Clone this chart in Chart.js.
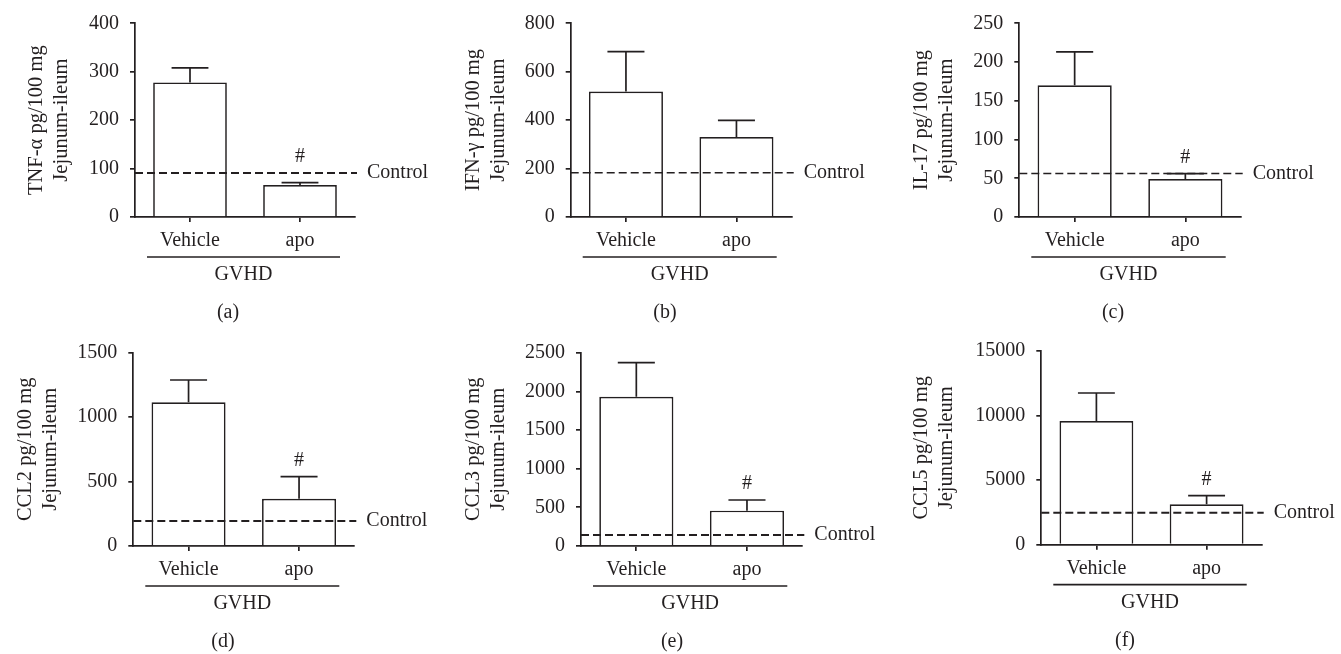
<!DOCTYPE html>
<html><head><meta charset="utf-8">
<script src="https://cdn.jsdelivr.net/npm/chart.js@4"></script>
<style>
html,body{margin:0;padding:0;background:#fff;}
body{width:1341px;height:654px;position:relative;overflow:hidden;}
canvas{position:absolute;}
</style></head><body>
<canvas id="c0" width="447" height="327" style="left:0;top:0"></canvas>
<canvas id="c1" width="447" height="327" style="left:447px;top:0"></canvas>
<canvas id="c2" width="447" height="327" style="left:894px;top:0"></canvas>
<canvas id="c3" width="447" height="327" style="left:0;top:327px"></canvas>
<canvas id="c4" width="447" height="327" style="left:447px;top:327px"></canvas>
<canvas id="c5" width="447" height="327" style="left:894px;top:327px"></canvas>
<script>
// ---------- data ----------
const categories = ['Vehicle', 'apo'];
const groupLabel = 'GVHD';
const controlLabel = 'Control';

const tnfMean  = [278, 66];    const tnfErr  = [30, 5];
const ifnMean  = [518, 330];   const ifnErr  = [165, 69];
const il17Mean = [170, 49];    const il17Err = [43, 7];
const ccl2Mean = [1115, 367];  const ccl2Err = [173, 171];
const ccl3Mean = [1931, 457];  const ccl3Err = [440, 138];
const ccl5Mean = [9580, 3128]; const ccl5Err = [2168, 667];

const controlLevels = [91, 183, 56, 194, 142, 2478];
const yMax  = [400, 800, 250, 1500, 2500, 15000];
const yStep = [100, 200, 50, 500, 500, 5000];
const yTitles = [
  ['TNF-α pg/100 mg', 'Jejunum-ileum'],
  ['IFN-γ pg/100 mg', 'Jejunum-ileum'],
  ['IL-17 pg/100 mg', 'Jejunum-ileum'],
  ['CCL2 pg/100 mg', 'Jejunum-ileum'],
  ['CCL3 pg/100 mg', 'Jejunum-ileum'],
  ['CCL5 pg/100 mg', 'Jejunum-ileum']
];
const sigMarks = [['', '#'], ['', ''], ['', '#'], ['', '#'], ['', '#'], ['', '#']];
const panelLetters = ['(a)', '(b)', '(c)', '(d)', '(e)', '(f)'];

const seriesMeans = [tnfMean, ifnMean, il17Mean, ccl2Mean, ccl3Mean, ccl5Mean];
const seriesErrs  = [tnfErr, ifnErr, il17Err, ccl2Err, ccl3Err, ccl5Err];

// ---------- layout (page coordinates) ----------
const W = 447, H = 327;
const layout = [
  {cx:0,   cy:0,   left:135,    right:355,    top:23.3,  bottom:217,   t1:36.7,  lab:228,  dash:2},
  {cx:447, cy:0,   left:570.7,  right:791.7,  top:23.3,  bottom:217,   t1:473.3, lab:665,  dash:1.5},
  {cx:894, cy:0,   left:1019.3, right:1240.7, top:23.3,  bottom:217,   t1:921.7, lab:1113, dash:1.5},
  {cx:0,   cy:327, left:133.3,  right:354.3,  top:352.7, bottom:546,   t1:25.5,  lab:223,  dash:2},
  {cx:447, cy:327, left:581,    right:802.3,  top:352.7, bottom:546,   t1:473.3, lab:672,  dash:2},
  {cx:894, cy:327, left:1041.3, right:1261.7, top:351,   bottom:544.7, t1:921.7, lab:1125, dash:2}
];

const INK = '#231f20';
const FAM = '"Liberation Serif", "Times New Roman", serif';
const FS = 20;
const TFS = 20.5;
const LH = 1.22;
const LW = 1.7;

const decor = {
  id: 'decor',
  afterDatasetsDraw(chart, args, opts) {
    const i = opts.idx, L = layout[i];
    const {ctx, chartArea: a, scales: {y}} = chart;
    const means = seriesMeans[i], errs = seriesErrs[i];
    const meta = chart.getDatasetMeta(0);
    ctx.save();
    ctx.strokeStyle = INK; ctx.fillStyle = INK;
    ctx.lineWidth = LW;
    const yc = y.getPixelForValue(controlLevels[i]);
    meta.data.forEach((bar, j) => {
      const bx = bar.x, w = bar.width;
      const yTop = y.getPixelForValue(means[j]);
      const yE = y.getPixelForValue(means[j] + errs[j]);
      ctx.beginPath();
      ctx.moveTo(bx, yTop); ctx.lineTo(bx, yE);
      ctx.moveTo(bx - w / 4, yE); ctx.lineTo(bx + w / 4, yE);
      ctx.stroke();
      if (sigMarks[i][j]) {
        ctx.font = FS + 'px ' + FAM;
        ctx.textAlign = 'center'; ctx.textBaseline = 'middle';
        ctx.fillText(sigMarks[i][j], bx, Math.min(yE, yc) - 16);
      }
    });
    // control line
    ctx.setLineDash([8, 4]);
    ctx.lineWidth = L.dash;
    ctx.beginPath(); ctx.moveTo(a.left, yc); ctx.lineTo(a.right + 2, yc); ctx.stroke();
    ctx.setLineDash([]);
    ctx.font = FS + 'px ' + FAM;
    ctx.textAlign = 'left'; ctx.textBaseline = 'middle';
    ctx.fillText(controlLabel, a.right + 12, yc);
    // group bracket
    ctx.lineWidth = LW;
    const gy = a.bottom + 40;
    const gl = a.left + 12, gr = a.right - 15;
    ctx.beginPath(); ctx.moveTo(gl, gy); ctx.lineTo(gr, gy); ctx.stroke();
    ctx.textAlign = 'center';
    ctx.fillText(groupLabel, (gl + gr) / 2, a.bottom + 58);
    ctx.fillText(panelLetters[i], L.lab - L.cx, a.bottom + 96);
    ctx.restore();
  }
};

layout.forEach((L, i) => {
  const ctx = document.getElementById('c' + i);
  new Chart(ctx, {
    type: 'bar',
    data: {
      labels: categories,
      datasets: [{
        data: seriesMeans[i],
        backgroundColor: '#ffffff',
        borderColor: INK,
        borderWidth: LW,
        categoryPercentage: 1,
        barPercentage: 0.67
      }]
    },
    options: {
      responsive: false,
      animation: false,
      events: [],
      layout: { padding: { left: 0, top: L.top - L.cy, right: (L.cx + W) - L.right, bottom: 0 } },
      plugins: { legend: { display: false }, tooltip: { enabled: false }, decor: { idx: i } },
      scales: {
        x: {
          ticks: { color: INK, font: { family: FAM, size: FS }, padding: 7 },
          grid: { display: true, offset: false, drawOnChartArea: false, drawTicks: true, tickLength: 5, color: INK, lineWidth: LW },
          border: { display: true, color: INK, width: LW },
          afterFit(s) { s.height = (L.cy + H) - L.bottom; }
        },
        y: {
          min: 0, max: yMax[i],
          ticks: { stepSize: yStep[i], color: INK, font: { family: FAM, size: FS }, padding: 11, callback: v => String(v) },
          grid: { display: true, drawOnChartArea: false, drawTicks: true, tickLength: 5, color: INK, lineWidth: LW },
          border: { display: true, color: INK, width: LW },
          title: {
            display: true, text: yTitles[i], color: INK,
            font: { family: FAM, size: TFS, lineHeight: LH },
            padding: { top: (L.t1 - L.cx) - TFS * LH / 2, bottom: 0 }
          },
          afterFit(s) { s.width = L.left - L.cx; }
        }
      }
    },
    plugins: [decor]
  });
});
</script>
</body></html>
